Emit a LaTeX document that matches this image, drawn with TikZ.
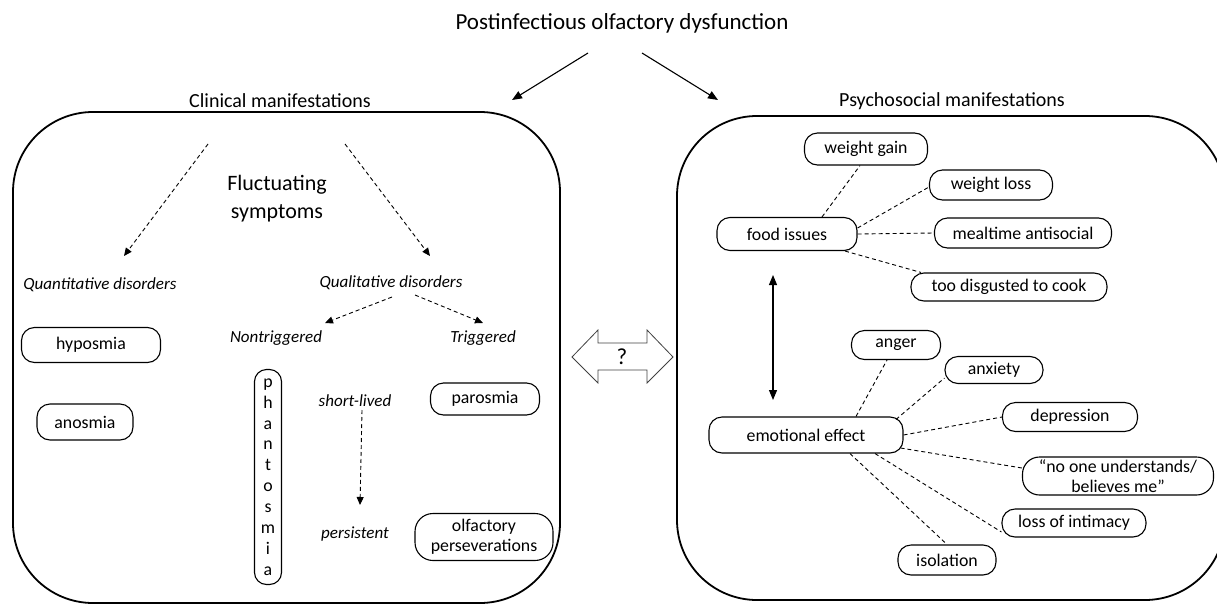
\documentclass[tikz,border=0pt]{standalone}
\usepackage{fontspec}
\setmainfont{Carlito}
\usetikzlibrary{arrows.meta}
\begin{document}
\begin{tikzpicture}[x=1pt,y=-1pt,
  box/.style={draw, line width=1.1pt, rounded corners=13pt, inner sep=0pt,
    font=\fontsize{17.8}{20}\selectfont, align=center},
  lbl/.style={font=\fontsize{17}{20}\selectfont\itshape, inner sep=0pt},
  head/.style={font=\fontsize{20}{24}\selectfont, inner sep=0pt},
  dl/.style={dash pattern=on 4pt off 3pt, line width=0.9pt},
  da/.style={dl, -{Triangle[length=8pt,width=7pt]}},
  sa/.style={line width=1.1pt, -{Triangle[length=10pt,width=8pt]}},
  panel/.style={draw, line width=1.8pt, rounded corners=80pt},
]
\useasboundingbox (0,0) rectangle (1217,605);

% titles
\node[font=\fontsize{23}{26}\selectfont, inner sep=0pt] (title) at (622,23) {Postinfectious olfactory dysfunction};
\node[head] (clin) at (280,101) {Clinical manifestations};
\node[head] (psy) at (952,101) {Psychosocial manifestations};
\coordinate (clinTip) at (512,100);
\coordinate (psyTip) at (718,100);
\draw[sa] ([shift={(-34,30)}]title.center) -- (clinTip);
\draw[sa] ([shift={(20,30)}]title.center) -- (psyTip);

% panels
\draw[panel] (13,112) rectangle (560,603);
\draw[panel] (677,116) rectangle (1225,600);

% left panel
\node[font=\fontsize{22}{28}\selectfont, align=center, inner sep=0pt] (fluct) at (277,199) {Fluctuating\\symptoms};
\node[lbl] (quant) at (100,285) {Quantitative disorders};
\node[lbl] (qual) at (391,283) {Qualitative disorders};
\node[lbl] (nontrig) at (276,338) {Nontriggered};
\node[lbl] (trig) at (483,338) {Triggered};
\node[lbl] (short) at (355,401) {short-lived};
\node[lbl] (pers) at (355,534) {persistent};

\node[box, minimum width=139pt, minimum height=35pt] (hypo) at (91,345) {hyposmia};
\node[box, minimum width=96pt, minimum height=36pt] (anos) at (85,422) {anosmia};
\node[box, rounded corners=12pt, minimum width=27pt, minimum height=215pt,
  font=\fontsize{17.8}{20.9}\selectfont] (phan) at (268,477) {p\\h\\a\\n\\t\\o\\s\\m\\i\\a};
\node[box, minimum width=109pt, minimum height=32pt] (paro) at (485,399) {parosmia};
\node[box, rounded corners=18pt, minimum width=138pt, minimum height=47pt] (perse) at (484,537) {olfactory\\perseverations};

\draw[da] ([shift={(-69,-55)}]fluct.center) -- ([shift={(24,-29)}]quant.center);
\draw[da] ([shift={(68,-55)}]fluct.center) -- ([shift={(39,-27)}]qual.center);
\draw[da] ([shift={(1,14)}]qual.center) -- ([shift={(49,-15)}]nontrig.center);
\draw[da] ([shift={(24,12)}]qual.center) -- ([shift={(0,-15)}]trig.center);
\draw[da] ([shift={(7,9)}]short.center) -- ([shift={(5,-29)}]pers.center);

% double arrow with question mark
\node[font=\fontsize{23}{26}\selectfont, inner sep=0pt] (q) at (622,357) {?};
\draw[line width=0.8pt, black!75] (572,357) -- (598,330) -- (598,343) -- (647,343) -- (647,330) -- (673,357)
  -- (647,383) -- (647,370) -- (598,370) -- (598,383) -- cycle;

% right panel
\node[box, minimum width=123pt, minimum height=32pt] (wg) at (866,149) {weight gain};
\node[box, minimum width=123pt, minimum height=30pt] (wl) at (991,185) {weight loss};
\node[box, minimum width=177pt, minimum height=30pt] (mt) at (1023,233) {mealtime antisocial};
\node[box, minimum width=196pt, minimum height=28pt] (td) at (1009,287) {too disgusted to cook};
\node[box, minimum width=140pt, minimum height=33pt] (food) at (787,234) {food issues};

\node[box, minimum width=89pt, minimum height=29pt] (an) at (896,345) {anger};
\node[box, minimum width=98pt, minimum height=27pt] (ax) at (994,370) {anxiety};
\node[box, minimum width=194pt, minimum height=36pt] (ee) at (806,435) {emotional effect};
\node[box, minimum width=135pt, minimum height=29pt] (dp) at (1070,417) {depression};
\node[box, rounded corners=17pt, minimum width=191pt, minimum height=38pt] (no) at (1118,476) {“no one understands/\\believes me”};
\node[box, minimum width=144pt, minimum height=28pt] (li) at (1074,523) {loss of intimacy};
\node[box, minimum width=98pt, minimum height=30pt] (iso) at (947,560) {isolation};

\draw[dl] ([xshift=35pt]food.north) -- ([xshift=-6pt]wg.south);
\draw[dl] ([yshift=6pt]food.east) -- ([yshift=-2pt]wl.west);
\draw[dl] (food.east) -- (mt.west);
\draw[dl] ([xshift=58pt]food.south) -- ([xshift=-88pt]td.north);

\draw[line width=1.1pt, {Triangle[length=10pt,width=8pt]}-{Triangle[length=10pt,width=8pt]}]
  ([shift={(-14,41)}]food.center) -- ([shift={(-33,-35)}]ee.center);

\draw[dl] ([xshift=50pt]ee.north) -- ([xshift=-9pt]an.south);
\draw[dl] ([xshift=90pt,yshift=-3pt]ee.north) -- ([yshift=-8pt]ax.west);
\draw[dl] (ee.east) -- (dp.west);
\draw[dl] ([xshift=-3pt,yshift=-13pt]ee.east) -- ([yshift=8pt]no.west);
\draw[dl] ([xshift=69pt]ee.south) -- ([yshift=-9pt]li.west);
\draw[dl] ([xshift=44pt]ee.south) -- (iso.north);
\end{tikzpicture}
\end{document}
